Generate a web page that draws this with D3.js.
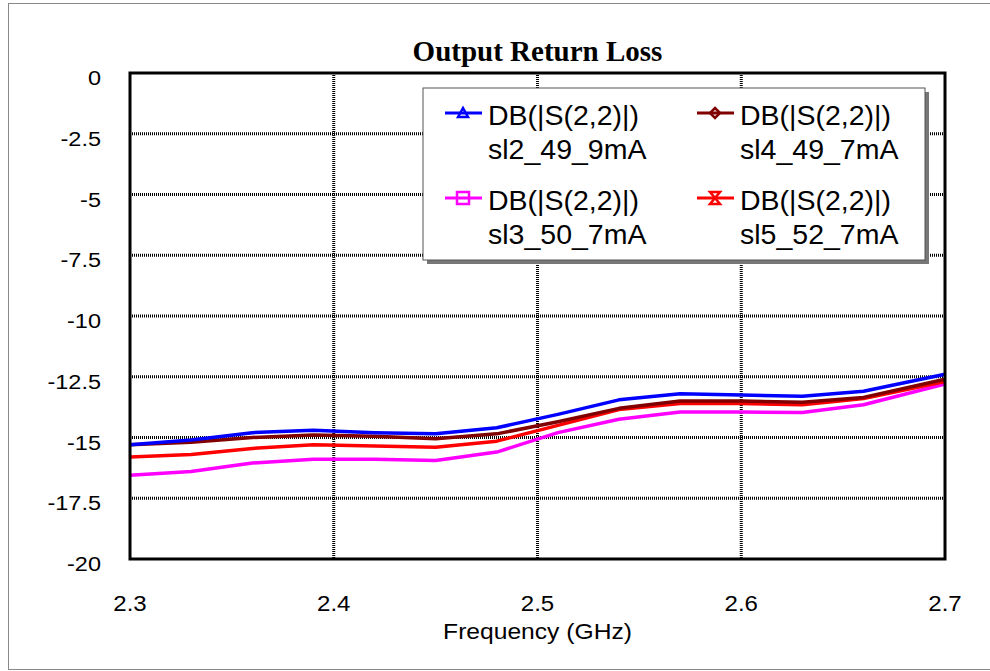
<!DOCTYPE html>
<html>
<head>
<meta charset="utf-8">
<script src="https://cdn.jsdelivr.net/npm/d3@7"></script>
<style>
body { margin: 0; background: #fff; }
</style>
</head>
<body>
<div class="container"></div>
<script>
// frequency points (GHz)
var freq = [2.3, 2.33, 2.36, 2.39, 2.42, 2.45, 2.48, 2.51, 2.54, 2.57, 2.6, 2.63, 2.66, 2.7];

// DB(|S(2,2)|) per bias
var sl2 = [-15.3, -15.1, -14.8, -14.7, -14.8, -14.85, -14.6, -14.05, -13.45, -13.2, -13.25, -13.3, -13.1, -12.4];
var sl3 = [-16.55, -16.4, -16.05, -15.9, -15.9, -15.95, -15.6, -14.8, -14.25, -13.95, -13.95, -13.97, -13.65, -12.8];
var sl4 = [-15.3, -15.2, -15.0, -14.9, -14.95, -15.05, -14.85, -14.35, -13.8, -13.5, -13.5, -13.55, -13.35, -12.6];
var sl5 = [-15.8, -15.7, -15.45, -15.3, -15.35, -15.4, -15.15, -14.5, -13.85, -13.6, -13.6, -13.65, -13.4, -12.7];

var xTicks = [2.3, 2.4, 2.5, 2.6, 2.7];
var yTicks = [0, -2.5, -5, -7.5, -10, -12.5, -15, -17.5, -20];

var series = [
  {name: "sl2_49_9mA", values: sl2, color: "#0000ff", marker: "tri"},
  {name: "sl3_50_7mA", values: sl3, color: "#ff00ff", marker: "sq"},
  {name: "sl4_49_7mA", values: sl4, color: "#800000", marker: "dia"},
  {name: "sl5_52_7mA", values: sl5, color: "#ff0000", marker: "hour"}
];

var W = 990, H = 671;
var L = 130, R = 945, T = 73, B = 559;
var sans = "Liberation Sans, Arial, sans-serif";

var svg = d3.select(".container").append("svg")
  .attr("width", W).attr("height", H);

// outer frame
svg.append("rect").attr("x", 8.5).attr("y", 3.5).attr("width", 990).attr("height", 666)
  .attr("fill", "none").attr("stroke", "#888").attr("stroke-width", 1);

var x = d3.scaleLinear().domain([2.3, 2.7]).range([L, R]);
var y = d3.scaleLinear().domain([-20, 0]).range([B, T]);

// grid
svg.selectAll(".gx").data(xTicks.slice(1, -1)).enter().append("line")
  .attr("x1", d => x(d)).attr("x2", d => x(d)).attr("y1", T).attr("y2", B)
  .attr("stroke", "#000").attr("stroke-width", 3).attr("stroke-dasharray", "1,1");
svg.selectAll(".gy").data(yTicks.slice(1, -1)).enter().append("line")
  .attr("x1", L).attr("x2", R).attr("y1", d => y(d)).attr("y2", d => y(d))
  .attr("stroke", "#000").attr("stroke-width", 3).attr("stroke-dasharray", "1,1");

// tick labels (text is a bit wide in the original, so stretch it)
svg.selectAll(".ty").data(yTicks).enter().append("text")
  .attr("transform", d => "translate(101," + (y(d) + 12) + ") scale(1.12,1)")
  .attr("text-anchor", "end")
  .attr("font-family", sans).attr("font-size", 21)
  .text(d => d);
svg.selectAll(".tx").data(xTicks).enter().append("text")
  .attr("transform", d => "translate(" + x(d) + ",611) scale(1.12,1)")
  .attr("text-anchor", "middle")
  .attr("font-family", sans).attr("font-size", 21.5)
  .text(d => d.toFixed(1));

svg.append("text")
  .attr("transform", "translate(" + (L + R) / 2 + ",639) scale(1.12,1)")
  .attr("text-anchor", "middle")
  .attr("font-family", sans).attr("font-size", 22)
  .text("Frequency (GHz)");

svg.append("text").attr("x", (L + R) / 2).attr("y", 61)
  .attr("text-anchor", "middle")
  .attr("font-family", "Liberation Serif, Times New Roman, serif").attr("font-weight", "bold")
  .attr("font-size", 29)
  .text("Output Return Loss");

// lines
var line = d3.line().x((d, i) => x(freq[i])).y(d => y(d));
[series[1], series[3], series[2], series[0]].forEach(function(s) {
  svg.append("path").datum(s.values)
    .attr("d", line)
    .attr("fill", "none").attr("stroke", s.color).attr("stroke-width", 3.5)
    .attr("stroke-linejoin", "round");
});

// plot border
svg.append("rect").attr("x", L).attr("y", T).attr("width", R - L).attr("height", B - T)
  .attr("fill", "none").attr("stroke", "#000").attr("stroke-width", 3);

// legend
var lg = svg.append("g");
lg.append("rect").attr("x", 427).attr("y", 92).attr("width", 502).attr("height", 172).attr("fill", "#777");
lg.append("rect").attr("x", 423).attr("y", 88).attr("width", 502).attr("height", 172)
  .attr("fill", "#fff").attr("stroke", "#555").attr("stroke-width", 1);

function drawMarker(g, type, cx, cy, color) {
  var m = g.append("path").attr("fill", "none").attr("stroke", color).attr("stroke-width", 2.5);
  if (type == "tri") m.attr("d", "M" + (cx - 5) + "," + (cy + 4) + "L" + cx + "," + (cy - 5) + "L" + (cx + 5) + "," + (cy + 4) + "Z");
  if (type == "sq") m.attr("d", "M" + (cx - 6) + "," + (cy - 6) + "h12v12h-12Z");
  if (type == "dia") m.attr("d", "M" + cx + "," + (cy - 5) + "L" + (cx + 5) + "," + cy + "L" + cx + "," + (cy + 5) + "L" + (cx - 5) + "," + cy + "Z");
  if (type == "hour") m.attr("d", "M" + (cx - 5) + "," + (cy - 6) + "L" + (cx + 5) + "," + (cy - 6) + "L" + (cx - 5) + "," + (cy + 6) + "L" + (cx + 5) + "," + (cy + 6) + "Z");
}

var legPos = [[445, 113], [445, 198], [697, 113], [697, 198]];
series.forEach(function(s, i) {
  var p = legPos[i];
  lg.append("line").attr("x1", p[0]).attr("x2", p[0] + 37).attr("y1", p[1]).attr("y2", p[1])
    .attr("stroke", s.color).attr("stroke-width", 3);
  drawMarker(lg, s.marker, p[0] + 18, p[1], s.color);
  var t = lg.append("text").attr("x", p[0] + 43).attr("y", p[1] + 12)
    .attr("font-family", sans).attr("font-size", 28.5);
  t.append("tspan").attr("x", p[0] + 43).text("DB(|S(2,2)|)");
  t.append("tspan").attr("x", p[0] + 43).attr("dy", 34).text(s.name);
});
</script>
</body>
</html>
